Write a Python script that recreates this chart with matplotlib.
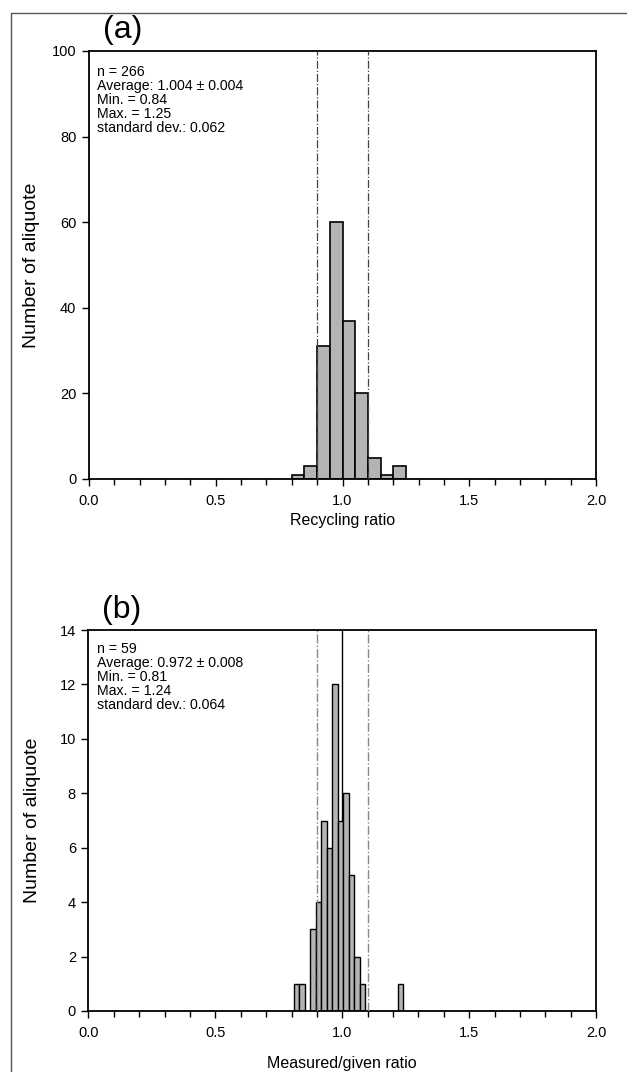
import matplotlib.pyplot as plt
import numpy as np
from matplotlib.lines import Line2D
from matplotlib.ticker import MultipleLocator

plt.rcParams['font.family'] = ['Liberation Sans', 'DejaVu Sans']

# (a) recycling ratio, bins of 0.05
edges_a = [0.80, 0.85, 0.90, 0.95, 1.00, 1.05, 1.10, 1.15, 1.20, 1.25]
counts_a = [1, 3, 31, 60, 37, 20, 5, 1, 3]
stats_a = "n = 266\nAverage: 1.004 \u00b1 0.004\nMin. = 0.84\nMax. = 1.25\nstandard dev.: 0.062"

# (b) measured/given ratio, 20 bins between min and max
b_min, b_max, b_nbins = 0.81, 1.24, 20
counts_b = [1, 1, 0, 3, 4, 7, 6, 12, 7, 8, 5, 2, 1, 0, 0, 0, 0, 0, 0, 1]
stats_b = "n = 59\nAverage: 0.972 \u00b1 0.008\nMin. = 0.81\nMax. = 1.24\nstandard dev.: 0.064"

fig = plt.figure(figsize=(6.27, 10.72), dpi=100)
W, H = 627, 1072

def px_axes(left, top, right, bottom):
    return fig.add_axes([left / W, 1 - bottom / H, (right - left) / W, (bottom - top) / H])

ax1 = px_axes(89, 51, 596, 479)
ax2 = px_axes(88.5, 630, 596, 1011)

bar_face = '#b4b4b4'

def style(ax, ymax, ystep, xlabel, ylab_x, xlab_y):
    ax.set_xlim(0, 2.0)
    ax.set_ylim(0, ymax)
    ax.xaxis.set_major_locator(MultipleLocator(0.5))
    ax.xaxis.set_minor_locator(MultipleLocator(0.1))
    ax.yaxis.set_major_locator(MultipleLocator(ystep))
    ax.xaxis.set_major_formatter(plt.FormatStrFormatter('%.1f'))
    ax.tick_params(axis='both', which='major', direction='out', length=5, width=1,
                   labelsize=10.5)
    ax.tick_params(axis='y', which='major', pad=4)
    ax.tick_params(axis='x', which='major', pad=6)
    ax.tick_params(axis='x', which='minor', direction='out', length=4, width=1)
    for s in ax.spines.values():
        s.set_linewidth(1.3)
    ax.set_ylabel('Number of aliquote', fontsize=14)
    ax.yaxis.set_label_coords(ylab_x, 0.5)
    ax.yaxis.label.set_va('center')
    ax.set_xlabel(xlabel, fontsize=11.5)
    ax.xaxis.set_label_coords(0.5, xlab_y)
    ax.xaxis.label.set_va('center')

# panel (a)
ax1.bar(edges_a[:-1], counts_a, width=np.diff(edges_a), align='edge',
        color=bar_face, edgecolor='black', linewidth=1.2, zorder=2)
for xv in (0.9, 1.1):
    ax1.axvline(xv, color='#444444', linestyle='-.', linewidth=0.9, zorder=3)
style(ax1, 100, 20, 'Recycling ratio', -0.114, -0.096)
ax1.text(0.016, 0.968, stats_a, transform=ax1.transAxes, va='top', ha='left',
         fontsize=10.2, linespacing=1.0)

# panel (b)
edges_b = np.linspace(b_min, b_max, b_nbins + 1)
ax2.axvline(1.0, color='black', linestyle='-', linewidth=1.0, zorder=1)
ax2.bar(edges_b[:-1], counts_b, width=np.diff(edges_b), align='edge',
        color=bar_face, edgecolor='black', linewidth=1.0, zorder=2)
for xv in (0.9, 1.1):
    ax2.axvline(xv, color='#888888', linestyle='-.', linewidth=1.0, zorder=3)
style(ax2, 14, 2, 'Measured/given ratio', -0.11, -0.137)
ax2.text(0.016, 0.968, stats_b, transform=ax2.transAxes, va='top', ha='left',
         fontsize=10.2, linespacing=1.0)

# panel letters
fig.text(123 / W, 1 - 38 / H, '(a)', fontsize=23, ha='center', va='baseline')
fig.text(122 / W, 1 - 618 / H, '(b)', fontsize=23, ha='center', va='baseline')

# outer frame (top and left edges)
fx, fy = 10.5 / W, 1 - 13 / H
fig.add_artist(Line2D([fx, fx, 1.0], [0.0, fy, fy], transform=fig.transFigure,
                      color='#555555', linewidth=1.0))

fig.savefig('out.png', dpi=100)
